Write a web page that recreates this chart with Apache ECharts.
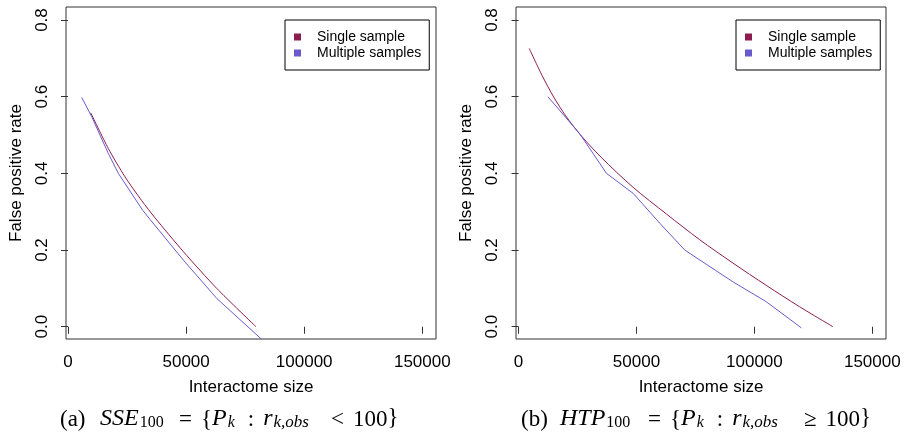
<!DOCTYPE html>
<html><head><meta charset="utf-8">
<script src="https://cdn.jsdelivr.net/npm/echarts@6/dist/echarts.min.js"></script>
<style>html,body{margin:0;padding:0;background:#fff}#c{width:906px;height:440px}</style>
</head><body><div id="c"></div>
<script>
const xTicks = [0, 50000, 100000, 150000];
const yTicks = [0, 0.2, 0.4, 0.6, 0.8];
const seriesNames = ['Single sample', 'Multiple samples'];

// Panel (a) SSE_100
const sseSingleX = [9610, 17060, 24130, 31200, 36840, 48820, 62960, 79600];
const sseSingleY = [0.558, 0.465, 0.391, 0.329, 0.284, 0.196, 0.100, 0.0];
const sseMultiX = [5800, 10030, 17060, 21300, 31600, 34720, 48820, 62960, 82000];
const sseMultiY = [0.598, 0.548, 0.452, 0.400, 0.304, 0.280, 0.174, 0.074, -0.033];

// Panel (b) HTP_100
const htpSingleX = [4500, 10000, 15000, 20000, 26000, 35000, 48500, 62700, 76800, 90900, 105000, 119200, 133300];
const htpSingleY = [0.726, 0.655, 0.598, 0.550, 0.502, 0.442, 0.364, 0.294, 0.227, 0.166, 0.108, 0.052, 0.0];
const htpMultiX = [12420, 25850, 37290, 48560, 59870, 70470, 90930, 105080, 119920];
const htpMultiY = [0.600, 0.504, 0.400, 0.348, 0.270, 0.200, 0.117, 0.065, -0.003];

// Caption text groups (rich-text markup)
const capA = ['{r|(a)}', '{i|SSE}{s|100}', '{r|=}{rp|{}{i|P}{si|k}{cl|:}{ip|r}{sw|k,obs}', '{r|<}{rp|100}{r|\u007d}'];
const capB = ['{r|(b)}', '{i|HTP}{s|100}', '{r|=}{rp|{}{i|P}{si|k}{cl|:}{ip|r}{sw|k,obs}', '{r|\u2265}{rp|100}{r|\u007d}'];
// horizontal anchors of the caption groups (layout only)
const capAPos = [60, 100, 179, 331];
const capBPos = [521, 560, 648, 804];

const RED = '#8c1d50', BLUE = '#6a5acd';
const FONT = "'Liberation Sans', Arial, Helvetica, sans-serif";
const SERIF = "'Liberation Serif', 'Times New Roman', serif";

function pairs(xs, ys) { return xs.map((x, i) => [x, ys[i]]); }

const chart = echarts.init(document.getElementById('c'), null, {renderer: 'canvas'});

function xAxisCfg(idx, min) {
  return {
    type: 'value', gridIndex: idx, min: min, max: 155800,
    name: 'Interactome size', nameLocation: 'middle', nameGap: 40,
    nameTextStyle: {fontFamily: FONT, fontSize: 17, color: '#000'},
    axisLine: {show: false},
    splitLine: {show: false},
    axisTick: {show: true, length: 7, customValues: xTicks, lineStyle: {color: '#333', width: 1}},
    axisLabel: {customValues: xTicks, fontFamily: FONT, fontSize: 17, color: '#000', margin: 15,
      formatter: v => String(Math.round(v))}
  };
}
function yAxisCfg(idx) {
  return {
    type: 'value', gridIndex: idx, min: -0.032, max: 0.834,
    name: 'False positive rate', nameLocation: 'middle', nameGap: 41, nameRotate: 90,
    nameTextStyle: {fontFamily: FONT, fontSize: 17, color: '#000'},
    axisLine: {show: false},
    splitLine: {show: false},
    axisTick: {show: true, length: 7, customValues: yTicks, lineStyle: {color: '#333', width: 1}},
    axisLabel: {customValues: yTicks, fontFamily: FONT, fontSize: 17, color: '#000', margin: 15, rotate: 90,
      formatter: v => Number(v).toFixed(1)}
  };
}
function legendCfg(left) {
  return {
    data: seriesNames, orient: 'vertical', left: left, top: 20,
    itemWidth: 7, itemHeight: 7, itemGap: 2, icon: 'rect',
    padding: [10, 8, 10, 9], borderColor: '#000', borderWidth: 1,
    selectedMode: false,
    textStyle: {fontFamily: FONT, fontSize: 14, color: '#000', lineHeight: 14, padding: [0, 0, 0, 11]}
  };
}
function lineSeries(name, xi, xs, ys, color, smooth) {
  return {
    type: 'line', name: name, xAxisIndex: xi, yAxisIndex: xi,
    data: pairs(xs, ys), showSymbol: false, symbol: 'none', smooth: smooth, clip: true,
    lineStyle: {color: color, width: 1}, itemStyle: {color: color}, animation: false
  };
}
const RICH = {
  r: {fontFamily: SERIF, fontSize: 23, lineHeight: 26, verticalAlign: 'bottom', color: '#000'},
  rp: {fontFamily: SERIF, fontSize: 23, lineHeight: 26, verticalAlign: 'bottom', color: '#000', padding: [0, 0, 0, 9]},
  cl: {fontFamily: SERIF, fontSize: 23, lineHeight: 26, verticalAlign: 'bottom', color: '#000', padding: [0, 0, 0, 13]},
  i: {fontFamily: SERIF, fontSize: 24, fontStyle: 'italic', lineHeight: 26, verticalAlign: 'bottom', color: '#000'},
  ip: {fontFamily: SERIF, fontSize: 24, fontStyle: 'italic', lineHeight: 26, verticalAlign: 'bottom', color: '#000', padding: [0, 0, 0, 9]},
  s: {fontFamily: SERIF, fontSize: 16, lineHeight: 16, verticalAlign: 'bottom', color: '#000', padding: [0, 0, 0, 1]},
  si: {fontFamily: SERIF, fontSize: 16, fontStyle: 'italic', lineHeight: 16, verticalAlign: 'bottom', color: '#000', padding: [0, 0, 0, 1]},
  sw: {fontFamily: SERIF, fontSize: 17, fontStyle: 'italic', lineHeight: 16, verticalAlign: 'bottom', color: '#000', padding: [0, 0, 0, 1]}
};
function captionElems(groups, pos) {
  return groups.map((g, i) => ({
    type: 'text', silent: true,
    style: {
      text: g, x: pos[i], y: 418,
      fontFamily: SERIF, fontSize: 23, fill: '#000',
      align: 'left', verticalAlign: 'middle', rich: RICH
    }
  }));
}

const option = {
  backgroundColor: '#fff',
  animation: false,
  grid: [
    {left: 66, top: 7, width: 370, height: 332, show: true, borderColor: '#333', borderWidth: 1, backgroundColor: 'transparent'},
    {left: 516, top: 7, width: 370, height: 332, show: true, borderColor: '#333', borderWidth: 1, backgroundColor: 'transparent'}
  ],
  xAxis: [xAxisCfg(0, -850), xAxisCfg(1, -1100)],
  yAxis: [yAxisCfg(0), yAxisCfg(1)],
  legend: [legendCfg(285), legendCfg(736)],
  series: [
    lineSeries(seriesNames[0], 0, sseSingleX, sseSingleY, RED, 0.25),
    lineSeries(seriesNames[1], 0, sseMultiX, sseMultiY, BLUE, false),
    lineSeries(seriesNames[0], 1, htpSingleX, htpSingleY, RED, 0.3),
    lineSeries(seriesNames[1], 1, htpMultiX, htpMultiY, BLUE, false)
  ],
  graphic: captionElems(capA, capAPos).concat(captionElems(capB, capBPos))
};
chart.setOption(option);
</script>
</body></html>
